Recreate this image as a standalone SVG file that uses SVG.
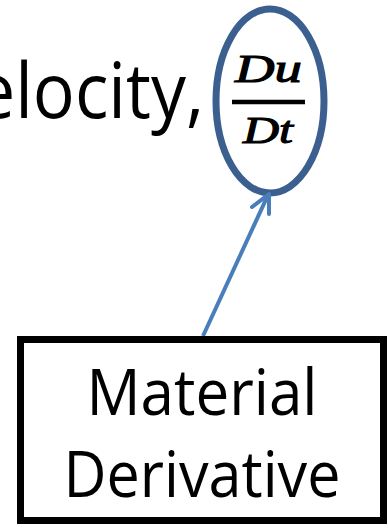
<svg xmlns="http://www.w3.org/2000/svg" width="388" height="528" viewBox="0 0 388 528">
<style>
.lbl{font-family:"Open Sans","Liberation Sans",sans-serif;fill:#000}
.math{font-family:"Liberation Serif","DejaVu Serif",serif;font-style:italic;font-weight:normal;fill:#000;stroke:#000;stroke-width:1.1}
</style>
<rect width="388" height="528" fill="#fff"/>
<g id="velocity">
<text class="lbl" x="-24" y="118" font-size="76" textLength="228" lengthAdjust="spacingAndGlyphs">elocity,</text>
</g>
<g id="derivative-term">
<ellipse cx="270" cy="101" rx="54" ry="92" fill="none" stroke="#3b5f8e" stroke-width="7"/>
<text class="math" x="268.5" y="82" font-size="40" text-anchor="middle" textLength="67" lengthAdjust="spacingAndGlyphs">Du</text>
<line x1="232" y1="102" x2="305" y2="102" stroke="#000" stroke-width="4.5"/>
<text class="math" x="268" y="143" font-size="38" text-anchor="middle" textLength="50" lengthAdjust="spacingAndGlyphs">Dt</text>
</g>
<g id="connectors">
<line x1="203" y1="336" x2="268" y2="195" stroke="#4a7ebb" stroke-width="4"/>
<polyline points="252,207 269,194 269,214" fill="none" stroke="#4a7ebb" stroke-width="4" stroke-linecap="round" stroke-linejoin="round"/>
</g>
<g id="material-derivative">
<rect x="20.5" y="339.5" width="363" height="181" fill="#fff" stroke="#000" stroke-width="7"/>
<text class="lbl" x="202" y="415" font-size="64" text-anchor="middle" textLength="231" lengthAdjust="spacingAndGlyphs">Material</text>
<text class="lbl" x="202" y="497" font-size="64" text-anchor="middle" textLength="277" lengthAdjust="spacingAndGlyphs">Derivative</text>
</g>
</svg>
